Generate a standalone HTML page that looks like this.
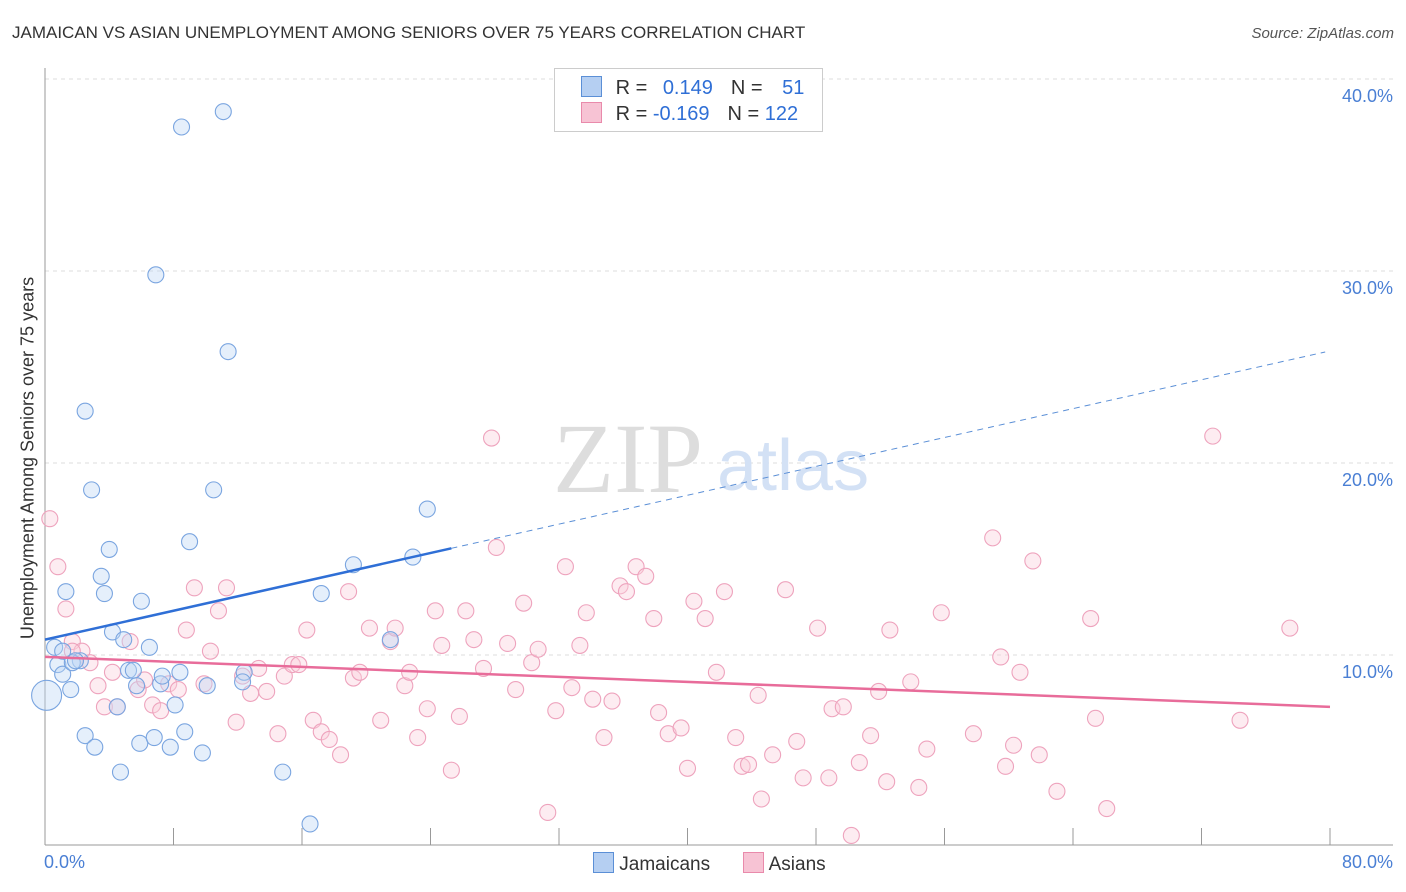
<!DOCTYPE html>
<html><head><meta charset="utf-8"><style>
body{margin:0;background:#fff;font-family:"Liberation Sans",sans-serif;}
#wrap{position:relative;width:1406px;height:892px;overflow:hidden;}
.t{position:absolute;white-space:nowrap;}
</style></head><body>
<div id="wrap">
<div class="t" style="left:12px;top:23px;font-size:17px;color:#333;">JAMAICAN VS ASIAN UNEMPLOYMENT AMONG SENIORS OVER 75 YEARS CORRELATION CHART</div>
<div class="t" style="right:12px;top:25px;font-size:15px;color:#555;font-style:italic;">Source: ZipAtlas.com</div>
<svg id="svg" width="1406" height="892" style="position:absolute;left:0;top:0"></svg>
</div>
<script>
const jamX=[0.1,0.6,0.8,1.1,1.6,1.3,2.2,2.5,2.5,2.9,3.1,3.5,3.7,4.0,4.2,4.5,4.7,4.9,5.2,5.5,5.7,5.9,6.0,6.5,6.8,6.9,7.2,7.3,7.8,8.1,8.4,8.5,8.7,9.0,9.8,10.1,10.5,11.1,11.4,12.4,12.3,14.8,16.5,17.2,19.2,21.5,22.9,23.8,1.7,1.1,1.9];
const jamY=[7.9,10.4,9.5,9.0,8.2,13.3,9.7,22.7,5.8,18.6,5.2,14.1,13.2,15.5,11.2,7.3,3.9,10.8,9.2,9.2,8.4,5.4,12.8,10.4,5.7,29.8,8.5,8.9,5.2,7.4,9.1,37.5,6.0,15.9,4.9,8.4,18.6,38.3,25.8,9.1,8.6,3.9,1.2,13.2,14.7,10.8,15.1,17.6,9.6,10.2,9.7];
const asiX=[0.3,0.8,1.3,1.7,2.3,2.8,3.3,3.7,4.2,4.5,5.3,5.8,6.2,6.7,7.2,7.7,8.3,8.8,9.3,9.9,10.3,10.8,11.3,11.9,12.3,12.8,13.3,13.8,14.5,14.9,15.4,15.8,16.3,16.7,17.2,17.7,18.4,18.9,19.2,19.6,20.2,20.9,21.5,21.8,22.4,22.7,23.2,23.8,24.3,24.7,25.3,25.8,26.2,26.7,27.3,27.8,28.1,28.8,29.3,29.8,30.3,30.7,31.3,31.8,32.4,32.8,33.3,33.7,34.1,34.8,35.3,35.8,36.2,36.8,37.4,37.9,38.2,38.8,39.6,40.0,40.4,41.1,41.8,42.3,43.0,43.4,43.8,44.4,44.6,45.3,46.1,46.8,47.2,48.1,48.8,49.0,49.7,50.2,50.7,51.4,51.9,52.4,52.6,53.9,54.4,54.9,55.8,57.8,59.0,59.5,59.8,60.3,60.7,61.5,61.9,63.0,65.1,65.4,66.1,72.7,74.4,77.5,1.7];
const asiY=[17.1,14.6,12.4,10.7,10.2,9.6,8.4,7.3,9.1,7.3,10.7,8.2,8.7,7.4,7.1,8.5,8.2,11.3,13.5,8.5,10.2,12.3,13.5,6.5,8.9,8.0,9.3,8.1,5.9,8.9,9.5,9.5,11.3,6.6,6.0,5.6,4.8,13.3,8.8,9.1,11.4,6.6,10.7,11.4,8.4,9.1,5.7,7.2,12.3,10.5,4.0,6.8,12.3,10.8,9.3,21.3,15.6,10.6,8.2,12.7,9.6,10.3,1.8,7.1,14.6,8.3,10.5,12.2,7.7,5.7,7.6,13.6,13.3,14.6,14.1,11.9,7.0,5.9,6.2,4.1,12.8,11.9,9.1,13.3,5.7,4.2,4.3,7.9,2.5,4.8,13.4,5.5,3.6,11.4,3.6,7.2,7.3,0.6,4.4,5.8,8.1,3.4,11.3,8.6,3.1,5.1,12.2,5.9,16.1,9.9,4.2,5.3,9.1,14.9,4.8,2.9,11.9,6.7,2.0,21.4,6.6,11.4,10.2];
const yTicks=[10,20,30,40];
const yTickLabels=["10.0%","20.0%","30.0%","40.0%"];
const xTicks=[0,8,16,24,32,40,48,56,64,72,80];
const jamTrend=[10.8,0.188]; // intercept, slope
const asiTrend=[9.9,-0.0325];
const jamSolidEnd=25.3, trendEnd=79.7;

const NS="http://www.w3.org/2000/svg";
const svg=document.getElementById('svg');
const X=v=>45+v*1285/80;
const Y=v=>847-v*19.2;
function mk(tag,attrs,parent){const e=document.createElementNS(NS,tag);for(const k in attrs)e.setAttribute(k,attrs[k]);(parent||svg).appendChild(e);return e;}
yTicks.forEach((t,i)=>{
 const g=mk('line',{x1:45,x2:1393,y1:Y(t),y2:Y(t),stroke:'#ddd','stroke-dasharray':'4,4'});
 
 
 const tx=mk('text',{x:1393,y:Y(t)+23,'text-anchor':'end','font-size':18,fill:'#4a7fd4','font-family':'Liberation Sans'});
 tx.textContent=yTickLabels[i];
 
 
});
const ax=mk('line',{x1:45,x2:45,y1:68,y2:845,stroke:'#999'});


const bx=mk('line',{x1:45,x2:1393,y1:845,y2:845,stroke:'#999'});


xTicks.forEach(t=>{
 const l=mk('line',{x1:X(t),x2:X(t),y1:828,y2:845,stroke:'#999'});
 
 
});
const wm=mk('text',{x:553,y:492,'font-size':100,fill:'#ddd','font-family':'Liberation Serif'});wm.textContent='ZIP';


const wm2=mk('text',{x:717,y:490,'font-size':72,fill:'#d3e1f5','font-family':'Liberation Sans'});wm2.textContent='atlas';


function pts(xs,ys,fill,stroke,name){
 xs.forEach((x,i)=>{
  const r=(name==='jamaican-point'&&i===0)?15:8;
  const c=mk('circle',{cx:X(x),cy:Y(ys[i]),r:r,fill:fill,'fill-opacity':0.4,stroke:stroke,'stroke-width':1.1});
  
  
 });
}
pts(asiX,asiY,'#f9cfdd','#eea3bd','asian-point');
pts(jamX,jamY,'#bfd6f4','#7aa5e0','jamaican-point');
const f=(tr,x)=>tr[0]+tr[1]*x;
const l1=mk('line',{x1:X(0),y1:Y(f(jamTrend,0)),x2:X(jamSolidEnd),y2:Y(f(jamTrend,jamSolidEnd)),stroke:'#2f6fd6','stroke-width':2.5});


const l2=mk('line',{x1:X(jamSolidEnd),y1:Y(f(jamTrend,jamSolidEnd)),x2:X(trendEnd),y2:Y(f(jamTrend,trendEnd)),stroke:'#5b8fd6','stroke-width':1,'stroke-dasharray':'6,5'});


const l3=mk('line',{x1:X(0),y1:Y(f(asiTrend,0)),x2:X(80),y2:Y(f(asiTrend,80)),stroke:'#e86c9a','stroke-width':2.5});


</script>
<div class="t" style="left:28px;top:458px;font-size:18px;color:#333;transform:translate(-50%,-50%) rotate(-90deg);">Unemployment Among Seniors over 75 years</div>
<div class="t" style="left:44px;top:852px;font-size:18px;color:#4a7fd4;">0.0%</div>
<div class="t" style="right:13px;top:852px;font-size:18px;color:#4a7fd4;">80.0%</div>
<div style="position:absolute;left:554px;top:68px;width:267px;height:62px;border:1px solid #ccc;background:#fff;font-size:20px;">
 <div style="position:absolute;left:26px;top:7px;white-space:nowrap;">
  <span style="display:inline-block;width:19px;height:19px;background:#b5cff2;border:1px solid #5b8fd6;vertical-align:-3px;"></span>
  <span style="margin-left:8px;color:#333">R = </span><span style="color:#2f6fd6;margin-left:10px">0.149</span><span style="color:#333;margin-left:18px">N = </span><span style="color:#2f6fd6;margin-left:14px">51</span></div>
 <div style="position:absolute;left:26px;top:33px;white-space:nowrap;">
  <span style="display:inline-block;width:19px;height:19px;background:#f7c3d4;border:1px solid #e98aab;vertical-align:-3px;"></span>
  <span style="margin-left:8px;color:#333">R = </span><span style="color:#2f6fd6">-0.169</span><span style="color:#333;margin-left:18px">N = </span><span style="color:#2f6fd6">122</span></div>
</div>
<div style="position:absolute;left:593px;top:852px;font-size:19px;color:#333;white-space:nowrap;">
 <span><span style="display:inline-block;width:19px;height:19px;background:#b5cff2;border:1px solid #5b8fd6;vertical-align:-3px;"></span> Jamaicans</span>
 <span style="margin-left:28px"><span style="display:inline-block;width:19px;height:19px;background:#f7c3d4;border:1px solid #e98aab;vertical-align:-3px;"></span> Asians</span>
</div>
</body></html>
